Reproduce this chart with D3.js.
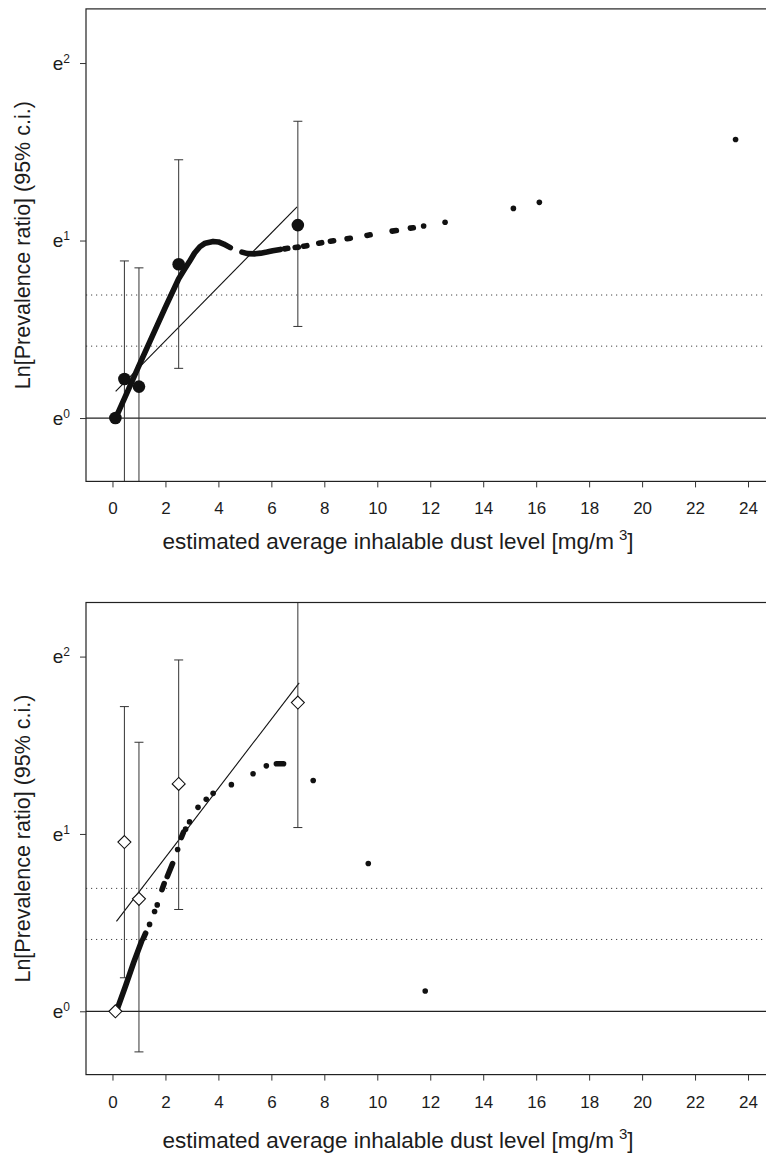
<!DOCTYPE html>
<html>
<head>
<meta charset="utf-8">
<script src="https://cdn.jsdelivr.net/npm/d3@7"></script>
<style>
  body { margin: 0; background: #fff; }
  text { font-family: "Liberation Sans", Arial, sans-serif; fill: #1c1c1c; }
</style>
</head>
<body>
<div id="chart"></div>
<script>
  const width = 766, height = 1159;

  // exposure categories (mg/m3), same in both panels
  const catX = [0.11, 0.45, 1.0, 2.5, 7.0];
  const xTicks = [0, 2, 4, 6, 8, 10, 12, 14, 16, 18, 20, 22, 24];
  const yTicks = [0, 1, 2];
  // dotted reference lines: ln(1.5), ln(2)
  const refLevels = [0.405, 0.693];

  // top panel: ln(prevalence ratio), 95% c.i. (null = reference group)
  const topPR = [0, 0.22, 0.177, 0.866, 1.087];
  const topLo = [null, -0.6, -0.6, 0.28, 0.516];
  const topHi = [null, 0.885, 0.846, 1.455, 1.672];
  const topRegX = [0.12, 6.97];
  const topRegY = [0.15, 1.19];
  // smoother, drawn as runs of dots
  const topSmooth = [
    [[0.12, 0], [0.6, 0.16], [1.0, 0.295], [1.5, 0.46], [2.0, 0.625], [2.5, 0.785], [2.75, 0.845], [2.9, 0.88],
     [3.1, 0.93], [3.3, 0.965], [3.5, 0.985], [3.8, 0.995], [4.0, 0.992], [4.2, 0.98], [4.45, 0.96]],
    [[4.89, 0.935], [5.1, 0.926], [5.39, 0.925], [5.6, 0.929], [5.83, 0.935], [6.05, 0.942], [6.34, 0.95]],
    [[6.5, 0.953], [6.62, 0.956]],
    [[6.9, 0.961], [7.02, 0.963]],
    [[7.22, 0.968], [7.34, 0.971]],
    [[7.79, 0.985], [7.9, 0.988]],
    [[8.23, 0.996], [8.35, 0.999]],
    [[8.86, 1.01], [8.98, 1.013]],
    [[9.61, 1.029], [9.73, 1.032]],
    [[10.56, 1.053], [10.72, 1.056]],
    [[11.25, 1.07], [11.36, 1.072]],
    [[11.75, 1.082]],
    [[12.56, 1.103]],
    [[15.14, 1.181]],
    [[16.12, 1.215]],
    [[23.53, 1.569]]
  ];

  // bottom panel
  const botPR = [0, 0.954, 0.634, 1.282, 1.741];
  const botLo = [null, 0.189, -0.229, 0.574, 1.036];
  const botHi = [null, 1.718, 1.517, 1.981, 2.6];
  const botRegX = [0.15, 7.05];
  const botRegY = [0.507, 1.852];
  const botSmooth = [
    [[0.15, 0], [0.5, 0.145], [0.8, 0.275], [1.1, 0.395]],
    [[1.16, 0.41], [1.25, 0.44]],
    [[1.40, 0.49]],
    [[1.59, 0.563]],
    [[1.69, 0.60]],
    [[1.87, 0.686], [1.95, 0.72]],
    [[2.07, 0.76], [2.27, 0.833]],
    [[2.46, 0.912]],
    [[2.6, 0.98], [2.68, 1.01]],
    [[2.76, 1.027]],
    [[2.91, 1.068]],
    [[3.23, 1.15]],
    [[3.54, 1.195]],
    [[3.80, 1.229]],
    [[4.49, 1.278]],
    [[5.31, 1.339]],
    [[5.81, 1.384]],
    [[6.19, 1.396], [6.46, 1.396]],
    [[7.58, 1.301]],
    [[9.66, 0.833]],
    [[11.81, 0.114]]
  ];

  const xDomain = [-1, 25], yDomain = [-0.357, 2.305];
  const left = 86, right = 774.5;

  const svg = d3.select('#chart').append('svg')
    .attr('width', width)
    .attr('height', height);

  function panel(top, bottom, pr, lo, hi, regX, regY, smooth, marker, titleY) {
    const x = d3.scaleLinear().domain(xDomain).range([left, right]);
    const y = d3.scaleLinear().domain(yDomain).range([bottom, top]);
    const g = svg.append('g');
    const clipId = 'clip' + Math.round(top);
    g.append('clipPath').attr('id', clipId)
      .append('rect')
      .attr('x', left).attr('y', top)
      .attr('width', right - left).attr('height', bottom - top);

    const inner = g.append('g').attr('clip-path', `url(#${clipId})`);

    inner.append('line')
      .attr('x1', left).attr('x2', right)
      .attr('y1', y(0)).attr('y2', y(0))
      .attr('stroke', '#222').attr('stroke-width', 1.2);

    inner.selectAll('.ref').data(refLevels).join('line')
      .attr('x1', left).attr('x2', right)
      .attr('y1', d => y(d)).attr('y2', d => y(d))
      .attr('stroke', '#444').attr('stroke-width', 1)
      .attr('stroke-dasharray', '1.2,3.8');

    // fitted line
    inner.append('line')
      .attr('x1', x(regX[0])).attr('y1', y(regY[0]))
      .attr('x2', x(regX[1])).attr('y2', y(regY[1]))
      .attr('stroke', '#111').attr('stroke-width', 1.1);

    // error bars
    catX.forEach((cx, i) => {
      if (lo[i] === null) return;
      inner.append('line')
        .attr('x1', x(cx)).attr('x2', x(cx))
        .attr('y1', y(lo[i])).attr('y2', y(hi[i]))
        .attr('stroke', '#333').attr('stroke-width', 1);
      [lo[i], hi[i]].forEach(v => {
        if (v < yDomain[0] || v > yDomain[1]) return;
        inner.append('line')
          .attr('x1', x(cx) - 4.5).attr('x2', x(cx) + 4.5)
          .attr('y1', y(v)).attr('y2', y(v))
          .attr('stroke', '#333').attr('stroke-width', 1);
      });
    });

    // smoother
    const line = d3.line().x(d => x(d[0])).y(d => y(d[1]));
    smooth.forEach(run => {
      if (run.length === 1) {
        inner.append('circle')
          .attr('cx', x(run[0][0])).attr('cy', y(run[0][1]))
          .attr('r', 2.8).attr('fill', '#111');
      } else {
        inner.append('path')
          .attr('d', line(run))
          .attr('fill', 'none').attr('stroke', '#111')
          .attr('stroke-width', 5.6)
          .attr('stroke-linecap', 'round').attr('stroke-linejoin', 'round');
      }
    });

    // category estimates
    catX.forEach((cx, i) => {
      if (marker === 'circle') {
        inner.append('circle')
          .attr('cx', x(cx)).attr('cy', y(pr[i]))
          .attr('r', 6.3).attr('fill', '#111');
      } else {
        const s = 6.5;
        inner.append('path')
          .attr('transform', `translate(${x(cx)},${y(pr[i])})`)
          .attr('d', `M0,${-s}L${s},0L0,${s}L${-s},0Z`)
          .attr('fill', '#fff').attr('stroke', '#111').attr('stroke-width', 1.1);
      }
    });

    // frame
    g.append('rect')
      .attr('x', left).attr('y', top)
      .attr('width', right - left).attr('height', bottom - top)
      .attr('fill', 'none').attr('stroke', '#222').attr('stroke-width', 1.2);

    // x axis
    const xa = g.append('g')
      .attr('transform', `translate(0,${bottom})`)
      .call(d3.axisBottom(x).tickValues(xTicks).tickSize(6).tickPadding(15).tickFormat(d3.format('d')));
    xa.select('.domain').remove();
    xa.selectAll('line').attr('stroke', '#333');
    xa.selectAll('text').attr('font-size', 17).attr('fill', '#1c1c1c')
      .style('font-family', '"Liberation Sans", Arial, sans-serif');

    // y axis with e^k labels
    const ya = g.append('g')
      .attr('transform', `translate(${left},0)`)
      .call(d3.axisLeft(y).tickValues(yTicks).tickSize(6).tickFormat(''));
    ya.select('.domain').remove();
    ya.selectAll('line').attr('stroke', '#333');
    ya.selectAll('.tick').each(function (d) {
      const t = d3.select(this).append('text')
        .attr('x', -16).attr('dy', '0.32em')
        .attr('text-anchor', 'end')
        .attr('font-size', 19)
        .style('font-family', '"Liberation Sans", Arial, sans-serif')
        .attr('fill', '#1c1c1c');
      t.append('tspan').text('e');
      t.append('tspan').attr('font-size', 12).attr('dy', -7).text(d);
    });

    // axis titles
    g.append('text')
      .attr('transform', `translate(30,${(top + bottom) / 2}) rotate(-90)`)
      .attr('text-anchor', 'middle')
      .attr('font-size', 21.5)
      .text('Ln[Prevalence ratio] (95% c.i.)');

    const xt = g.append('text')
      .attr('x', 398).attr('y', titleY)
      .attr('text-anchor', 'middle')
      .attr('font-size', 22.5);
    xt.append('tspan').text('estimated average inhalable dust level [mg/m');
    xt.append('tspan').attr('dx', 5).attr('dy', -9).attr('font-size', 15).text('3');
    xt.append('tspan').attr('dy', 9).text(']');
  }

  panel(8.9, 481.4, topPR, topLo, topHi, topRegX, topRegY, topSmooth, 'circle', 549);
  panel(602.5, 1074.6, botPR, botLo, botHi, botRegX, botRegY, botSmooth, 'diamond', 1148);
</script>
</body>
</html>
